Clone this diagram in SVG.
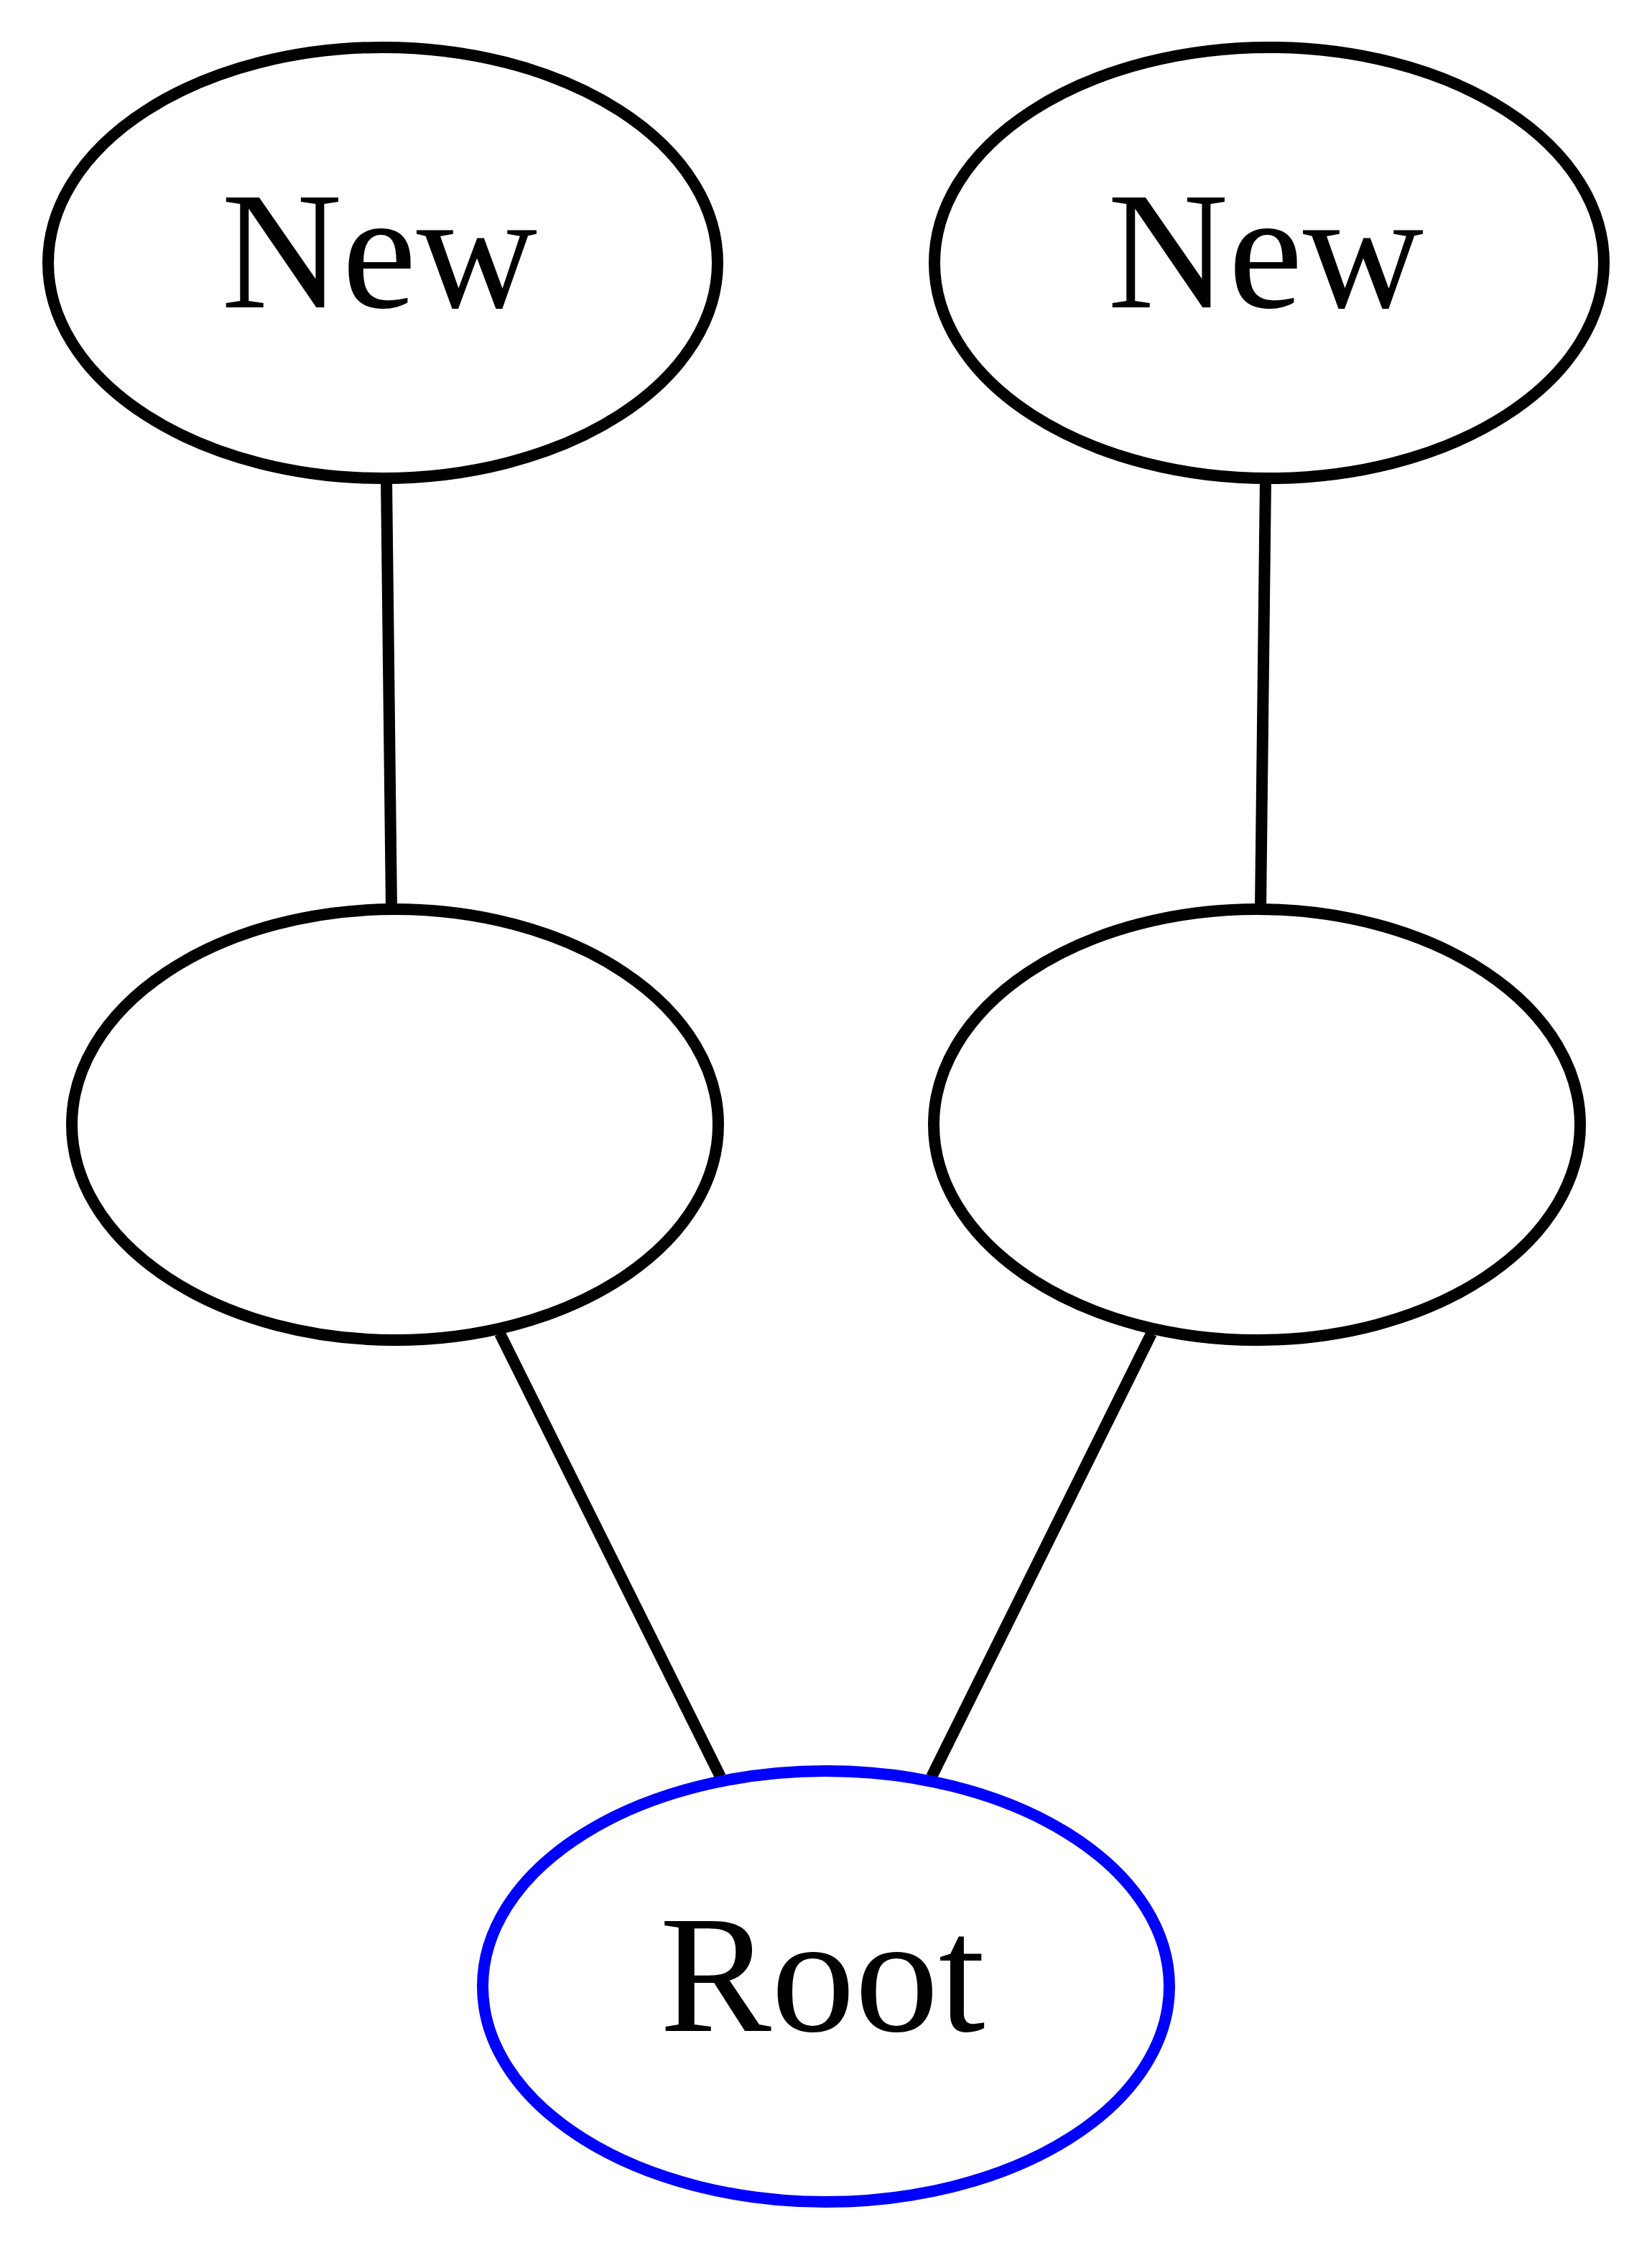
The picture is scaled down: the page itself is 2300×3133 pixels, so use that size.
<svg xmlns="http://www.w3.org/2000/svg" width="2300" height="3133" viewBox="0 0 2300 3133">
  <style>
    .node ellipse { fill: none; stroke: #000000; stroke-width: 16; }
    .node.root ellipse { stroke: #0000ff; }
    .node text { font-family: "Liberation Serif", "Times New Roman", serif; font-size: 233px; fill: #000000; text-anchor: middle; }
    .edges path { fill: none; stroke: #000000; stroke-width: 16; }
  </style>
  <rect width="2300" height="3133" fill="#ffffff"/>

  <!-- undirected edges -->
  <g id="edges" class="edges">
    <path id="e-new1-mid1" d="M538,666 L545,1266"/>
    <path id="e-new2-mid2" d="M1762,666 L1755,1266"/>
    <path id="e-mid1-root" d="M696,1857 L1003,2474"/>
    <path id="e-mid2-root" d="M1603,1857 L1297,2474"/>
  </g>

  <!-- top row -->
  <g id="new1" class="node">
    <ellipse cx="533" cy="366" rx="466" ry="300"/>
    <text x="528" y="428">New</text>
  </g>
  <g id="new2" class="node">
    <ellipse cx="1767" cy="366" rx="466" ry="300"/>
    <text x="1762" y="428">New</text>
  </g>

  <!-- middle row: unlabeled nodes -->
  <g id="mid1" class="node">
    <ellipse cx="550" cy="1566" rx="450" ry="300"/>
  </g>
  <g id="mid2" class="node">
    <ellipse cx="1750" cy="1566" rx="450" ry="300"/>
  </g>

  <!-- bottom: root -->
  <g id="root" class="node root">
    <ellipse cx="1150" cy="2766" rx="478" ry="300"/>
    <text x="1145" y="2828">Root</text>
  </g>
</svg>
